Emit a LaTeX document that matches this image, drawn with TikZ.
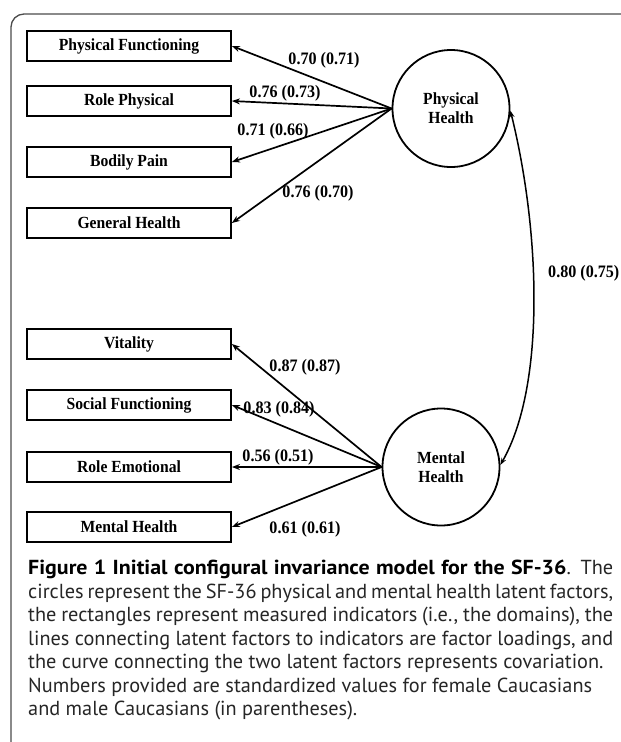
\documentclass[tikz,border=0pt]{standalone}
\usepackage{fontspec}
\setmainfont{Liberation Serif}
\newfontfamily\diagfont[FakeStretch=0.92]{Liberation Serif}
\newfontfamily\capfont{PT Sans}
\newfontfamily\capbold[FakeStretch=1.08]{PT Sans Bold}
\usetikzlibrary{arrows.meta}
\begin{document}
\begin{tikzpicture}[x=1pt,y=-1pt,
  ind/.style={draw, line width=1.8pt, minimum width=204pt, minimum height=30pt, inner sep=0pt,
    font=\diagfont\fontsize{17}{19}\selectfont\bfseries},
  lat/.style={draw, circle, line width=1.8pt, minimum size=117pt, inner sep=0pt, align=center,
    font=\diagfont\fontsize{17}{19}\selectfont\bfseries},
  load/.style={-{Stealth[length=8pt,width=6pt]}, line width=1.7pt},
  cov/.style={{Stealth[length=7pt,width=5pt]}-{Stealth[length=7pt,width=5pt]}, line width=1.5pt},
  lbl/.style={font=\diagfont\fontsize{17.5}{19}\selectfont\bfseries, inner sep=1pt},
  capline/.style={anchor=base west, inner sep=0pt, font=\capfont\fontsize{20.3}{23.5}\selectfont, text=black!85},
  frame/.style={draw=black!70, line width=1.3pt, rounded corners=13pt}]
\useasboundingbox (0,0) rectangle (621,742);
\fill[white] (0,0) rectangle (621,742);
% frame
\draw[frame] (11,742) -- (11,14) -- (621,14);
% indicators
\node[ind] (pf) at (129,46)  {Physical Functioning};
\node[ind] (rp) at (129,101) {Role Physical};
\node[ind] (bp) at (129,162) {Bodily Pain};
\node[ind] (gh) at (129,223) {General Health};
\node[ind] (vt) at (129,344) {Vitality};
\node[ind] (sf) at (129,405) {Social Functioning};
\node[ind] (re) at (129,467) {Role Emotional};
\node[ind] (mhi) at (129,527) {Mental Health};
% latent factors
\node[lat] (ph) at (451,108.5) {Physical\\Health};
\node[lat] (mh) at (441,467) {Mental\\Health};
% loadings
\draw[load] (ph.west) -- (pf.east);
\draw[load] (ph.west) -- (rp.east);
\draw[load] (ph.west) -- (bp.east);
\draw[load] (ph.west) -- (gh.east);
\draw[load] (mh.west) -- (vt.east);
\draw[load] (mh.west) -- (sf.east);
\draw[load] (mh.west) -- (re.east);
\draw[load] (mh.west) -- (mhi.east);
% labels
\node[lbl] (l1) at (324,60)  {0.70 (0.71)};
\node[lbl] (l2) at (285,93)  {0.76 (0.73)};
\node[lbl] (l3) at (273,131) {0.71 (0.66)};
\node[lbl] (l4) at (318,193) {0.76 (0.70)};
\node[lbl] (l5) at (305,367) {0.87 (0.87)};
\node[lbl] (l6) at (279,409) {0.83 (0.84)};
\node[lbl] (l7) at (278,457) {0.56 (0.51)};
\node[lbl] (l8) at (305,529) {0.61 (0.61)};
% covariance
\draw[cov] (ph.-2) .. controls (540,230) and (546,385) .. (mh.2);
\node[lbl, anchor=west] (l9) at (547,273) {0.80 (0.75)};
% caption
\node[capline] (c1) at (28,574) {\makebox[585pt][s]{{\capbold\color{black} Figure 1 Initial configural invariance model for the SF-36}. The}};
\node[capline] (c2) at (28,598) {\makebox[585pt][s]{circles represent the SF-36 physical and mental health latent factors,}};
\node[capline] (c3) at (28,621.5) {\makebox[585pt][s]{the rectangles represent measured indicators (i.e., the domains), the}};
\node[capline] (c4) at (28,645) {\makebox[585pt][s]{lines connecting latent factors to indicators are factor loadings, and}};
\node[capline] (c5) at (28,668.5) {the curve connecting the two latent factors represents covariation.};
\node[capline] (c6) at (28,692) {Numbers provided are standardized values for female Caucasians};
\node[capline] (c7) at (28,715.5) {and male Caucasians (in parentheses).};
\end{tikzpicture}
\end{document}
